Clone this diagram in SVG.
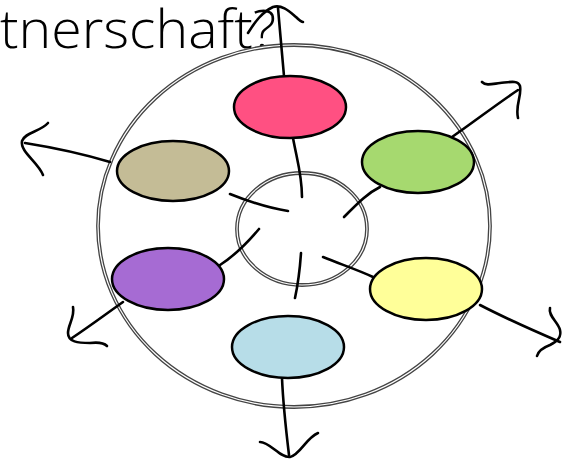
<svg xmlns="http://www.w3.org/2000/svg" width="566" height="462" viewBox="0 0 566 462">
  <style>
    .ring { fill: none; stroke: #444; stroke-width: 3.8; }
    .ring-core { fill: none; stroke: #fff; stroke-width: 1.2; }
    .node { stroke: #000; stroke-width: 2.5; }
    .stroke { fill: none; stroke: #000; stroke-width: 2.6; stroke-linecap: round; stroke-linejoin: round; }
    .title { font-family: "Open Sans", "Noto Sans", "Liberation Sans", sans-serif; font-weight: 300; font-size: 54px; fill: #000; }
  </style>

  <rect width="566" height="462" fill="#fff"/>

  <text class="title" x="0" y="48" textLength="276" lengthAdjust="spacingAndGlyphs">tnerschaft?</text>

  <!-- outer and inner double rings -->
  <g id="rings">
    <ellipse class="ring" cx="294" cy="226" rx="196" ry="181"/>
    <ellipse class="ring-core" cx="294" cy="226" rx="196" ry="181"/>
    <ellipse class="ring" cx="302" cy="229" rx="65" ry="56"/>
    <ellipse class="ring-core" cx="302" cy="229" rx="65" ry="56"/>
  </g>

  <!-- hand-drawn connectors and arrows -->
  <g id="connectors">
    <!-- pink -->
    <path class="stroke" d="M293,138 C297,160 302,175 302,197"/>
    <path class="stroke" d="M284,76 C282,55 280,30 278,8"/>
    <path class="stroke" d="M248,33 C255,22 262,12 273,7 C282,4 290,12 296,17 C299,20 301,22 303,22"/>
    <!-- tan -->
    <path class="stroke" d="M230,194 C250,202 268,208 288,211"/>
    <path class="stroke" d="M110,162 C80,153 50,147 25,143"/>
    <path class="stroke" d="M48,123 C40,132 25,132 22,141 C20,152 38,162 43,175"/>
    <!-- green -->
    <path class="stroke" d="M344,217 C356,205 366,194 380,187"/>
    <path class="stroke" d="M452,137 C475,121 497,104 518,90"/>
    <path class="stroke" d="M482,82 C486,86 492,84 500,83 C510,82 518,80 520,86 C522,96 515,105 518,118"/>
    <!-- purple -->
    <path class="stroke" d="M259,229 C248,242 234,256 220,265"/>
    <path class="stroke" d="M123,302 C106,314 90,326 72,338"/>
    <path class="stroke" d="M73,307 C75,317 68,325 68,333 C68,342 78,343 90,343 C98,342 104,343 107,346"/>
    <!-- yellow -->
    <path class="stroke" d="M323,257 C340,264 358,270 373,277"/>
    <path class="stroke" d="M480,305 C505,318 532,330 560,342"/>
    <path class="stroke" d="M550,308 C548,316 558,322 560,330 C562,338 556,342 550,345 C542,348 538,352 537,356"/>
    <!-- blue -->
    <path class="stroke" d="M301,253 C300,268 298,284 295,298"/>
    <path class="stroke" d="M282,378 C283,402 286,430 289,455"/>
    <path class="stroke" d="M260,442 C270,442 280,458 290,457 C300,455 306,438 318,433"/>
  </g>

  <g id="node-pink"><ellipse class="node" cx="290" cy="107" rx="56" ry="31" fill="#ff5082"/></g>
  <g id="node-green"><ellipse class="node" cx="418" cy="162" rx="56" ry="31" fill="#a6d96f"/></g>
  <g id="node-tan"><ellipse class="node" cx="173" cy="171" rx="56" ry="30" fill="#c4bc96"/></g>
  <g id="node-purple"><ellipse class="node" cx="168" cy="279" rx="56" ry="31" fill="#a66bd3"/></g>
  <g id="node-yellow"><ellipse class="node" cx="426" cy="289" rx="56" ry="31" fill="#ffff99"/></g>
  <g id="node-blue"><ellipse class="node" cx="288" cy="347" rx="56" ry="31" fill="#b7dde8"/></g>
</svg>
